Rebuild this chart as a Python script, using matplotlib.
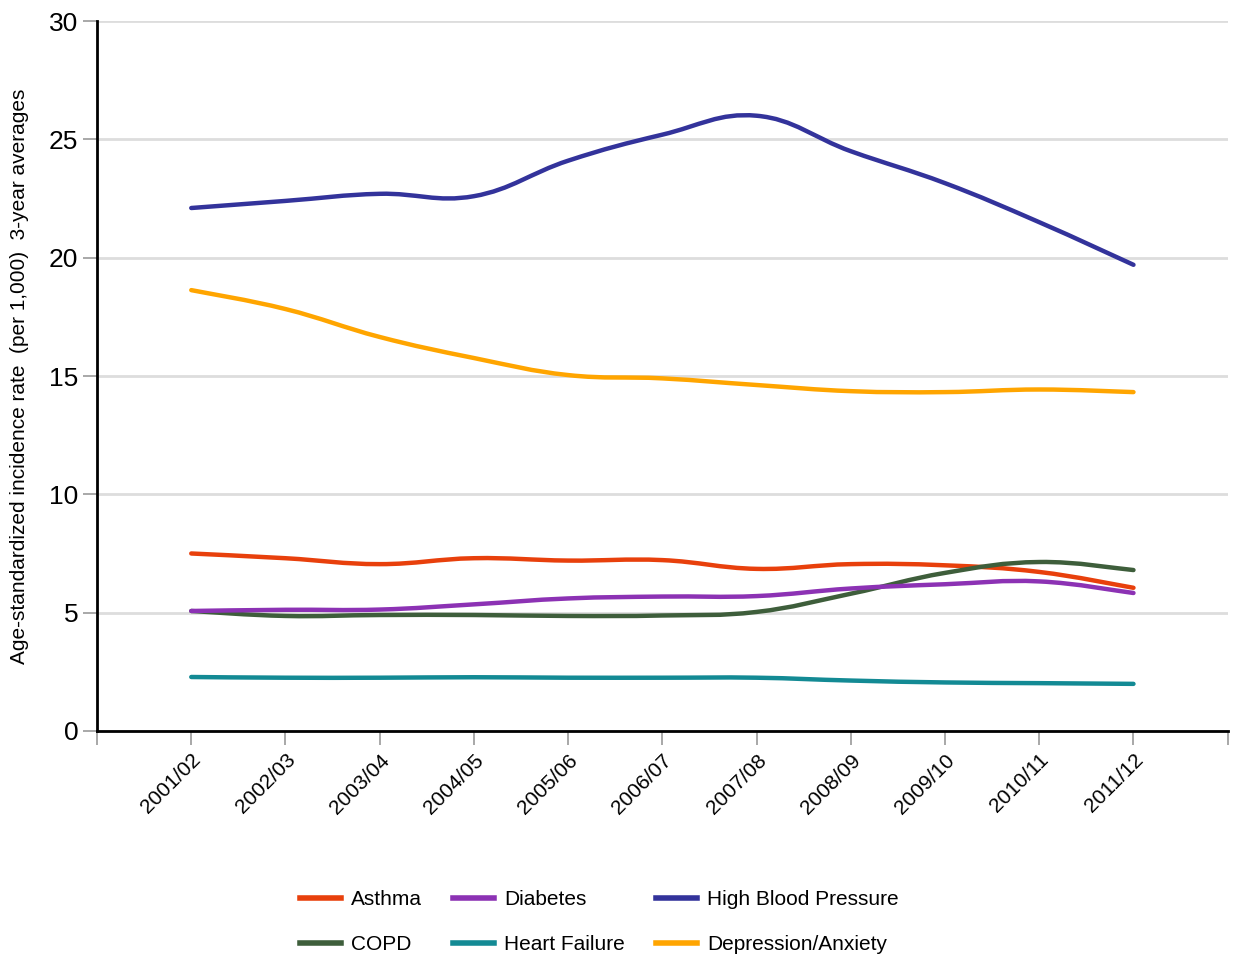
import matplotlib
matplotlib.use("Agg")
import matplotlib.pyplot as plt
import numpy as np
from matplotlib.path import Path
from matplotlib.patches import PathPatch
from matplotlib.lines import Line2D

plt.rcParams['font.family'] = ['Liberation Sans', 'DejaVu Sans']

years = ['2001/02', '2002/03', '2003/04', '2004/05', '2005/06', '2006/07',
         '2007/08', '2008/09', '2009/10', '2010/11', '2011/12']

asthma = [7.5, 7.3, 7.05, 7.3, 7.2, 7.22, 6.85, 7.05, 7.0, 6.72, 6.05]
diabetes = [5.07, 5.12, 5.13, 5.35, 5.6, 5.68, 5.7, 6.02, 6.2, 6.32, 5.83]
hbp = [22.1, 22.4, 22.7, 22.6, 24.1, 25.2, 26.0, 24.5, 23.15, 21.5, 19.7]
copd = [5.07, 4.86, 4.9, 4.9, 4.86, 4.88, 5.03, 5.8, 6.68, 7.14, 6.8]
heart_failure = [2.28, 2.25, 2.25, 2.27, 2.25, 2.25, 2.25, 2.13, 2.05, 2.02, 1.99]
depression = [18.63, 17.83, 16.65, 15.76, 15.04, 14.9, 14.62, 14.36, 14.32, 14.43, 14.32]

series = [
    ('Asthma', asthma, '#E8400C'),
    ('COPD', copd, '#3E5E3B'),
    ('Diabetes', diabetes, '#8C32B4'),
    ('Heart Failure', heart_failure, '#138A94'),
    ('High Blood Pressure', hbp, '#33339B'),
    ('Depression/Anxiety', depression, '#FFA500'),
]


def smooth_path(x, y, t=0.2):
    # bezier segments through the points (catmull-rom style control points)
    x = np.asarray(x, float)
    y = np.asarray(y, float)
    n = len(x)
    verts = [(x[0], y[0])]
    codes = [Path.MOVETO]
    for i in range(n - 1):
        i0 = max(i - 1, 0)
        i3 = min(i + 2, n - 1)
        c1 = (x[i] + (x[i + 1] - x[i0]) * t, y[i] + (y[i + 1] - y[i0]) * t)
        c2 = (x[i + 1] - (x[i3] - x[i]) * t, y[i + 1] - (y[i3] - y[i]) * t)
        verts += [c1, c2, (x[i + 1], y[i + 1])]
        codes += [Path.CURVE4] * 3
    return Path(verts, codes)


fig = plt.figure(figsize=(12.33, 9.58), dpi=100)
ax = fig.add_axes([0.0787, 0.237, 0.917, 0.741])

xpos = np.arange(1, len(years) + 1)
handles = []
for name, vals, col in series:
    patch = PathPatch(smooth_path(xpos, vals), facecolor='none', edgecolor=col,
                      lw=3.2, capstyle='round', joinstyle='round', zorder=3)
    ax.add_patch(patch)
    handles.append(Line2D([], [], color=col, lw=4, label=name))

ax.set_xlim(0, 12)
ax.set_ylim(0, 30)
ax.set_yticks([0, 5, 10, 15, 20, 25, 30])
ax.set_xticks(np.arange(0, 13))
ax.set_xticklabels([''] + years + [''], rotation=45, ha='right',
                   rotation_mode='anchor', fontsize=15)
ax.tick_params(axis='y', labelsize=19, length=10, color='#999999', width=1.2)
ax.tick_params(axis='x', length=10, color='#999999', width=1.2, pad=4)

ax.grid(axis='y', color='#dddddd', lw=2)
ax.set_axisbelow(True)
for s in ['top', 'right']:
    ax.spines[s].set_visible(False)
ax.spines['left'].set_linewidth(2)
ax.spines['bottom'].set_linewidth(2)

ax.set_ylabel('Age-standardized incidence rate  (per 1,000)  3-year averages',
              fontsize=15, labelpad=14)

fig.legend(handles=handles, ncol=3, loc='upper left',
           bbox_to_anchor=(300 / 1233, 1 - 890 / 958), frameon=False, fontsize=15,
           handlelength=1.95, columnspacing=1.5, labelspacing=1.25,
           handletextpad=0.5, borderpad=0, borderaxespad=0)

fig.savefig('out.png', dpi=100)
